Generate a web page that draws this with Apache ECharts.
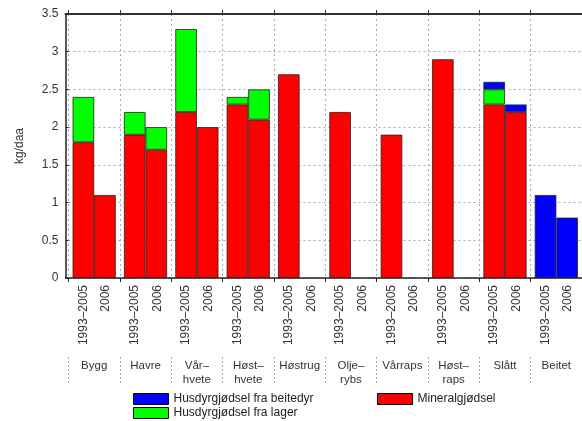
<!DOCTYPE html>
<html><head><meta charset="utf-8">
<script src="https://cdn.jsdelivr.net/npm/echarts@6/dist/echarts.min.js"></script>
<style>html,body{margin:0;padding:0;background:#fff}#c{width:582px;height:421px}</style>
</head><body><div id="c"></div>
<script>
const groups = ['Bygg','Havre','Vår–\nhvete','Høst–\nhvete','Høstrug','Olje–\nrybs','Vårraps','Høst–\nraps','Slått','Beitet'];
const yearLabels = ['1993–2005','2006'];
const seriesNames = ['Mineralgjødsel','Husdyrgjødsel fra lager','Husdyrgjødsel fra beitedyr'];
// 1993–2005
const mineralA = [1.8,1.9,2.2,2.3,2.7,2.2,1.9,2.9,2.3,null];
const lagerA   = [0.6,0.3,1.1,0.1,null,null,null,null,0.2,null];
const beiteA   = [null,null,null,null,null,null,null,null,0.1,1.1];
// 2006
const mineralB = [1.1,1.7,2.0,2.1,null,null,null,null,2.2,null];
const lagerB   = [null,0.3,null,0.4,null,null,null,null,null,null];
const beiteB   = [null,null,null,null,null,null,null,null,0.1,0.8];
const yTicks = {min:0,max:3.5,interval:0.5};

const colors = {'Mineralgjødsel':'#ff0000','Husdyrgjødsel fra lager':'#00ff00','Husdyrgjødsel fra beitedyr':'#0000ff'};
const font = 'Liberation Sans';
const years20 = [];
groups.forEach(()=>{years20.push(yearLabels[0]);years20.push(yearLabels[1]);});

function mk(name, stack, data){
  return {name, type:'bar', stack, data, xAxisIndex:0, yAxisIndex:0,
    barCategoryGap:'16%', barGap:'0%',
    itemStyle:{color:colors[name], borderColor:'#222', borderWidth:0.8}};
}
function leg(name, left, top){
  return {data:[name], left, top, icon:'rect', itemWidth:35, itemHeight:11, itemGap:5,
    textStyle:{fontSize:12,color:'#222',fontFamily:font},
    itemStyle:{borderColor:'#000',borderWidth:1}, selectedMode:false, padding:0};
}
const chart = echarts.init(document.getElementById('c'));
chart.setOption({
  animation:false,
  textStyle:{fontFamily:font},
  grid:[
    {left:68.5,top:14,width:515,bottom:143},
    {left:65.5,top:14,width:518,bottom:143}
  ],
  legend:[
    leg('Husdyrgjødsel fra beitedyr',133,393),
    leg('Husdyrgjødsel fra lager',133,407),
    leg('Mineralgjødsel',377,393)
  ],
  xAxis:[
    {gridIndex:0,type:'category', data:groups, position:'bottom',
     axisLine:{show:false},
     axisTick:{show:true,length:4,interval:0,lineStyle:{color:'#222'}},
     axisLabel:{show:false},
     splitLine:{show:true,interval:0,lineStyle:{color:'#aaa',type:[2,3],width:1}}},
    {gridIndex:0,type:'category', data:years20, position:'bottom',
     axisLine:{show:false}, axisTick:{show:false},
     axisLabel:{rotate:90, margin:7, fontSize:12, color:'#333', interval:0, fontFamily:font,
       formatter:(v)=> v===yearLabels[0] ? '{a|'+v+'}' : '{b|'+v+'}',
       rich:{a:{fontSize:12,color:'#333',fontFamily:font,padding:[4,0,0,0]},
             b:{fontSize:12,color:'#333',fontFamily:font,padding:[0,0,2,0]}}}},
    {gridIndex:0,type:'category', data:groups, position:'bottom', offset:79,
     axisLine:{show:false},
     axisTick:{show:true,length:26,interval:0,lineStyle:{color:'#aaa',type:[2,2]}},
     axisLabel:{margin:2, fontSize:11.5, color:'#333', interval:0, lineHeight:14, fontFamily:font}},
    {gridIndex:0,type:'category', data:groups, position:'top',
     axisLine:{show:false},
     axisTick:{show:true,length:4,interval:0,lineStyle:{color:'#333'}},
     axisLabel:{show:false}},
    {gridIndex:1,type:'value', min:0, max:1, position:'bottom',
     axisLine:{show:true,lineStyle:{color:'#222',width:1.5}},
     axisTick:{show:false}, axisLabel:{show:false}, splitLine:{show:false}},
    {gridIndex:1,type:'value', min:0, max:1, position:'top',
     axisLine:{show:true,lineStyle:{color:'#333',width:2}},
     axisTick:{show:false}, axisLabel:{show:false}, splitLine:{show:false}}
  ],
  yAxis:[
    {gridIndex:0,type:'value', min:yTicks.min, max:yTicks.max, interval:yTicks.interval, offset:3,
    name:'kg/daa', nameLocation:'middle', nameGap:40, nameRotate:90,
    nameTextStyle:{fontSize:12,color:'#333',fontFamily:font},
    axisLine:{show:true,lineStyle:{color:'#222',width:1.5}},
    axisTick:{show:true,inside:true,length:3,lineStyle:{color:'#222'}},
    axisLabel:{fontSize:12,color:'#333',margin:7,fontFamily:font},
    splitLine:{show:true,lineStyle:{color:'#aaa',type:[2,3],width:1}}},
    {gridIndex:1,type:'value',min:0,max:1,show:false}
  ],
  series:[
    mk('Mineralgjødsel','a',mineralA),
    mk('Husdyrgjødsel fra lager','a',lagerA),
    mk('Husdyrgjødsel fra beitedyr','a',beiteA),
    mk('Mineralgjødsel','b',mineralB),
    mk('Husdyrgjødsel fra lager','b',lagerB),
    mk('Husdyrgjødsel fra beitedyr','b',beiteB)
  ]
});
</script></body></html>
